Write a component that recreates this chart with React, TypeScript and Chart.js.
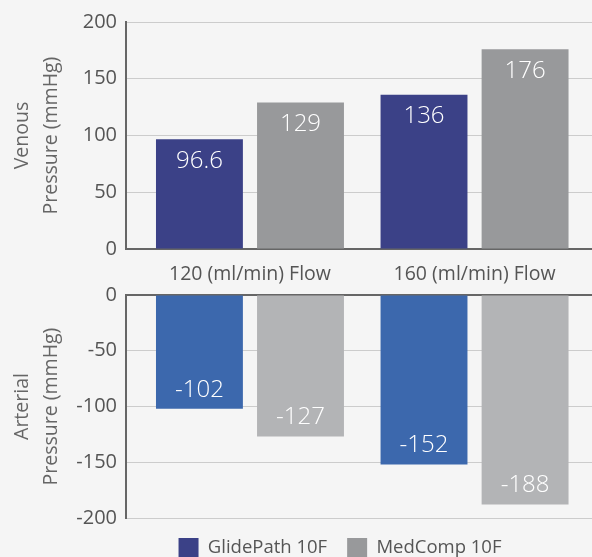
import React, { useEffect, useRef } from "react";
import { Chart, registerables } from "chart.js";

Chart.register(...registerables);

const categories = ["120 (ml/min) Flow", "160 (ml/min) Flow"];
const seriesNames = ["GlidePath 10F", "MedComp 10F"];
const venousGlidePath = [96.6, 136];
const venousMedComp = [129, 176];
const arterialGlidePath = [-102, -152];
const arterialMedComp = [-127, -188];
const venousTicks = [0, 50, 100, 150, 200];
const arterialTicks = [-200, -150, -100, -50, 0];

const FONT = "'Open Sans', 'DejaVu Sans', sans-serif";
const BG = "#f5f5f5";
const NAVY = "#3b4187";
const BLUE = "#3c68ad";
const GREY_DARK = "#98999b";
const GREY_LIGHT = "#b3b4b6";
const TEXT = "#555555";
const GRID = "#cccccc";
const AXIS = "#666666";

const xPos = [0, 1];

function makeLabelPlugin(offset: number) {
  return {
    id: "valueLabels",
    afterDatasetsDraw(chart: any) {
      const ctx = chart.ctx;
      ctx.save();
      ctx.fillStyle = "#ffffff";
      ctx.font = `300 24px ${FONT}`;
      ctx.textAlign = "center";
      ctx.textBaseline = "middle";
      chart.data.datasets.forEach((ds: any, di: number) => {
        const meta = chart.getDatasetMeta(di);
        meta.data.forEach((el: any, i: number) => {
          const v = ds.data[i].y;
          ctx.fillText(String(v), el.x, el.y + (v >= 0 ? offset : -offset));
        });
      });
      ctx.restore();
    },
  };
}

const legendCenterPlugin = {
  id: "legendCenter",
  afterLayout(chart: any) {
    const lg = chart.legend;
    if (!lg) return;
    const w = lg.right - lg.left;
    const c = 340;
    lg.left = c - w / 2;
    lg.right = c + w / 2;
  },
};

function xScale(showLabels: boolean, position: string, height: number) {
  return {
    type: "linear",
    position,
    offset: false,
    min: -0.552,
    max: 1.523,
    afterBuildTicks(scale: any) {
      scale.ticks = xPos.map((v) => ({ value: v }));
    },
    afterFit(scale: any) {
      scale.height = height;
    },
    grid: { display: false, drawTicks: false, offset: false },
    border: { display: true, color: AXIS, width: 2 },
    ticks: {
      display: showLabels,
      padding: 14,
      color: TEXT,
      font: { family: FONT, size: 19.5 },
      callback: (v: number) => categories[Math.round(v)] ?? "",
    },
  };
}

function yScale(min: number, max: number, ticks: number[], title: string[]) {
  return {
    min,
    max,
    afterBuildTicks(scale: any) {
      scale.ticks = ticks.map((v) => ({ value: v }));
    },
    afterFit(scale: any) {
      scale.width = 126;
    },
    grid: { color: GRID, lineWidth: 1, drawTicks: false },
    border: { display: true, color: AXIS, width: 2 },
    ticks: {
      padding: 9,
      color: TEXT,
      font: { family: FONT, size: 20 },
    },
    title: {
      display: true,
      text: title,
      color: "#666666",
      font: { family: FONT, size: 19.5, lineHeight: 1.5 },
      padding: { top: 8, bottom: 0 },
    },
  };
}

function toPoints(arr: number[]) {
  return arr.map((y, i) => ({ x: xPos[i], y }));
}

export default function App() {
  const topRef = useRef<HTMLCanvasElement>(null);
  const botRef = useRef<HTMLCanvasElement>(null);

  useEffect(() => {
    const barOpts = { categoryPercentage: 0.9, barPercentage: 0.86 };
    const top = new Chart(topRef.current as HTMLCanvasElement, {
      type: "bar",
      data: {
        datasets: [
          { label: seriesNames[0], data: toPoints(venousGlidePath), backgroundColor: NAVY, ...barOpts },
          { label: seriesNames[1], data: toPoints(venousMedComp), backgroundColor: GREY_DARK, ...barOpts },
        ],
      },
      options: {
        animation: false,
        responsive: false,
        layout: { padding: { top: 22, left: 0, right: 0, bottom: 0 } },
        plugins: { legend: { display: false }, tooltip: { enabled: false } },
        scales: {
          x: xScale(true, "bottom", 36),
          y: yScale(0, 200, venousTicks, ["Venous", "Pressure (mmHg)"]),
        },
      } as any,
      plugins: [makeLabelPlugin(22)],
    } as any);

    const bot = new Chart(botRef.current as HTMLCanvasElement, {
      type: "bar",
      data: {
        datasets: [
          { label: seriesNames[0], data: toPoints(arterialGlidePath), backgroundColor: BLUE, ...barOpts },
          { label: seriesNames[1], data: toPoints(arterialMedComp), backgroundColor: GREY_LIGHT, ...barOpts },
        ],
      },
      options: {
        animation: false,
        responsive: false,
        layout: { padding: { top: 0, left: 0, right: 0, bottom: 0 } },
        plugins: {
          tooltip: { enabled: false },
          legend: {
            position: "bottom",
            fullSize: false,
            labels: {
              boxWidth: 20,
              boxHeight: 20,
              padding: 20,
              color: TEXT,
              font: { family: FONT, size: 18.5 },
              generateLabels: () =>
                seriesNames.map((name, i) => ({
                  text: name,
                  fillStyle: i === 0 ? NAVY : GREY_DARK,
                  strokeStyle: i === 0 ? NAVY : GREY_DARK,
                  lineWidth: 0,
                  fontColor: TEXT,
                  datasetIndex: i,
                  hidden: false,
                })),
            },
          },
        },
        scales: {
          x: xScale(false, "top", 25),
          y: yScale(-200, 0, arterialTicks, ["Arterial", "Pressure (mmHg)"]),
        },
      } as any,
      plugins: [makeLabelPlugin(19), legendCenterPlugin],
    } as any);

    return () => {
      top.destroy();
      bot.destroy();
    };
  }, []);

  return (
    <div
      style={{
        position: "fixed",
        left: 0,
        top: 0,
        width: 592,
        height: 557,
        overflow: "hidden",
        background: BG,
      }}
    >
      <canvas
        ref={topRef}
        width={592}
        height={285}
        style={{ position: "absolute", left: 0, top: 0, width: 592, height: 285 }}
      />
      <canvas
        ref={botRef}
        width={592}
        height={298}
        style={{ position: "absolute", left: 0, top: 270, width: 592, height: 298 }}
      />
    </div>
  );
}
